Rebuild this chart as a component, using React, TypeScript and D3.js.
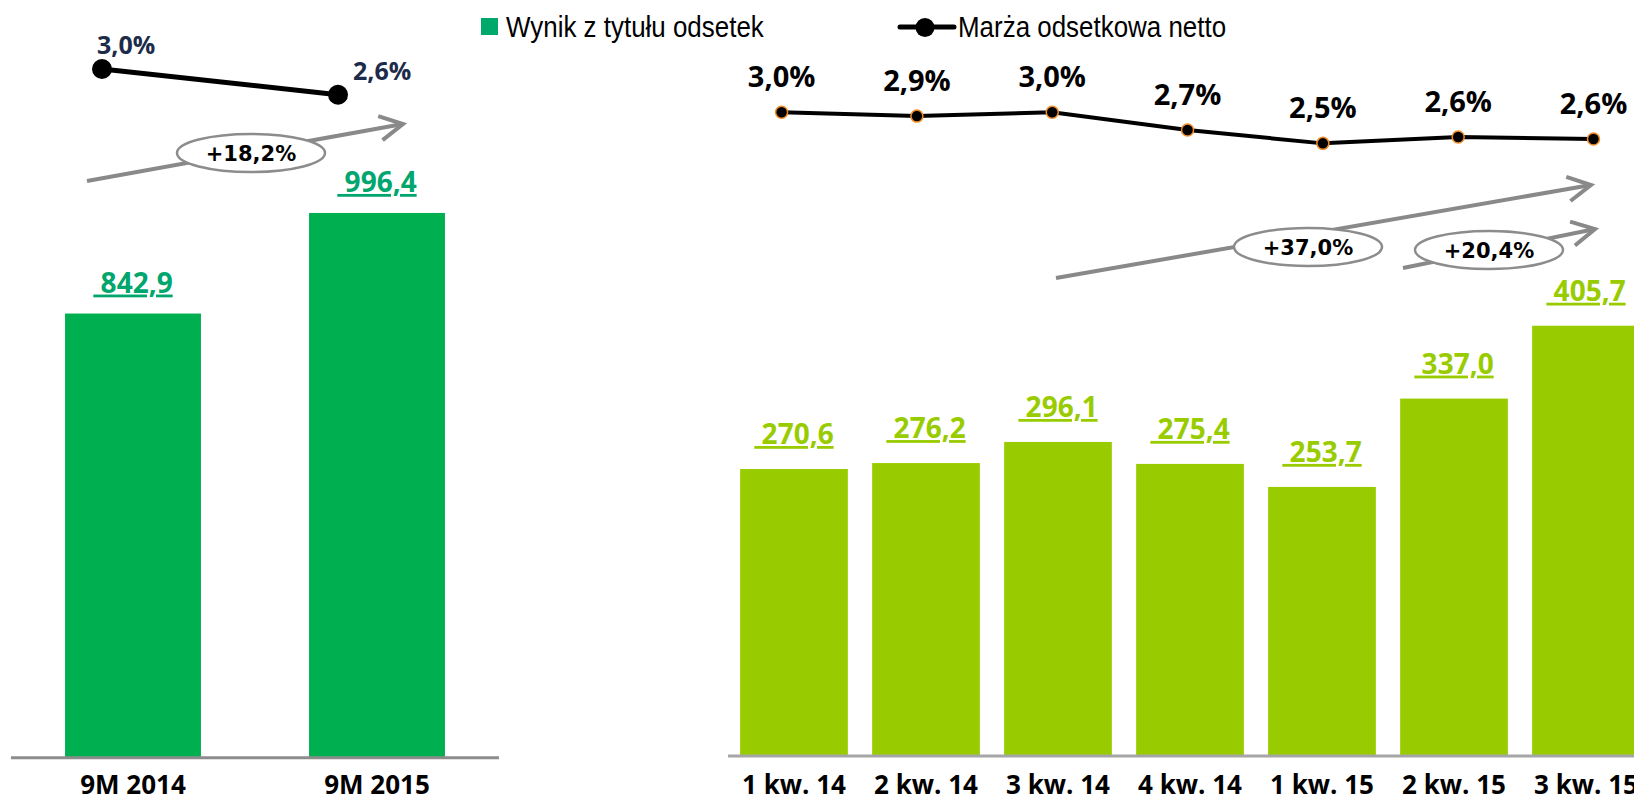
import React from 'react';
import * as d3 from 'd3';

const W = 1634;
const H = 798;

// left panel: 9 months totals
const leftCategories = ['9M 2014', '9M 2015'];
const leftIncome = [842.9, 996.4];
const leftMargin = [3.0, 2.6];

// right panel: quarters
const quarterCategories = ['1 kw. 14', '2 kw. 14', '3 kw. 14', '4 kw. 14', '1 kw. 15', '2 kw. 15', '3 kw. 15'];
const quarterIncome = [270.6, 276.2, 296.1, 275.4, 253.7, 337.0, 405.7];
const quarterMargin = [3.0, 2.94, 3.0, 2.72, 2.51, 2.61, 2.58];

const legendLabels = ['Wynik z tytułu odsetek', 'Marża odsetkowa netto'];
const growthLabels = ['+18,2%', '+37,0%', '+20,4%'];

const fmt = (v: number, d = 1) => v.toFixed(d).replace('.', ',');

const BOLD = '"Open Sans", "DejaVu Sans", sans-serif';
const BADGE = '"DejaVu Sans", Verdana, sans-serif';
const ARIAL = '"Liberation Sans", Arial, sans-serif';

// annotation arrows (start, end, ellipse centre)
const arrows = [
  { x1: 87, y1: 181, x2: 403, y2: 124, cx: 251, cy: 153, label: growthLabels[0] },
  { x1: 1056, y1: 278, x2: 1591, y2: 185, cx: 1308, cy: 247, label: growthLabels[1] },
  { x1: 1403, y1: 268, x2: 1595, y2: 229, cx: 1489, cy: 250, label: growthLabels[2] },
];

function Arrow({ a }: { a: typeof arrows[number] }) {
  const ang = Math.atan2(a.y2 - a.y1, a.x2 - a.x1);
  const len = 26;
  const spread = (28 * Math.PI) / 180;
  const p1 = [a.x2 - len * Math.cos(ang - spread), a.y2 - len * Math.sin(ang - spread)];
  const p2 = [a.x2 - len * Math.cos(ang + spread), a.y2 - len * Math.sin(ang + spread)];
  return (
    <g>
      <line x1={a.x1} y1={a.y1} x2={a.x2} y2={a.y2} stroke="#898989" strokeWidth={4} />
      <polyline
        points={`${p1[0]},${p1[1]} ${a.x2},${a.y2} ${p2[0]},${p2[1]}`}
        fill="none"
        stroke="#898989"
        strokeWidth={4}
        strokeLinejoin="miter"
      />
      <ellipse cx={a.cx} cy={a.cy} rx={74} ry={19} fill="#fff" stroke="#8c8c8c" strokeWidth={2.5} />
      <text x={a.cx} y={a.cy + 7.5} textAnchor="middle" fontFamily={BADGE} fontWeight="bold" fontSize={21} fill="#000">
        {a.label}
      </text>
    </g>
  );
}

export default function App() {
  // left scales
  const xL = d3.scaleBand<string>().domain(leftCategories).range([11, 499]).paddingInner(0.443).paddingOuter(0.2215);
  const yL = d3.scaleLinear().domain([165, 1000]).range([757.7, 210.6]);
  const xLp = d3.scalePoint<string>().domain(leftCategories).range([102, 338]);
  const yLm = d3.scaleLinear().domain([2.6, 3.0]).range([94.7, 69]);

  // right scales
  const xR = d3.scaleBand<string>().domain(quarterCategories).range([728, 1652]).paddingInner(0.184).paddingOuter(0.092);
  const yR = d3.scaleLinear().domain([0, 712.8]).range([756, 0]);
  const xRp = d3.scalePoint<string>().domain(quarterCategories).range([781.6, 1593.5]);
  const yRm = d3.scaleLinear().domain([2.5, 3.0]).range([144, 112.3]);

  const lineL = d3.line<number>().x((_, i) => xLp(leftCategories[i])!).y((d) => yLm(d));
  const lineR = d3.line<number>().x((_, i) => xRp(quarterCategories[i])!).y((d) => yRm(d));

  return (
    <svg width={W} height={H} style={{ position: 'absolute', left: 0, top: 0, background: '#fff' }}>
      {/* legend */}
      <rect x={481} y={18} width={17} height={17} fill="#00a86b" />
      <text transform="translate(506,36.7) scale(0.865,1)" fontFamily={ARIAL} fontSize={30} fill="#000">
        {legendLabels[0]}
      </text>
      <line x1={900} y1={27} x2={954} y2={27} stroke="#000" strokeWidth={5} strokeLinecap="round" />
      <circle cx={925} cy={27.5} r={9.5} fill="#000" />
      <text transform="translate(958,37.3) scale(0.865,1)" fontFamily={ARIAL} fontSize={30} fill="#000">
        {legendLabels[1]}
      </text>

      {/* left bars */}
      {leftIncome.map((v, i) => {
        const c = leftCategories[i];
        const x = xL(c)!;
        const bw = xL.bandwidth();
        return (
          <g key={c}>
            <rect x={x} y={yL(v)} width={bw} height={yL.range()[0] - yL(v)} fill="#00b050" />
            <text
              x={x + bw / 2}
              y={yL(v) - 21}
              textAnchor="middle"
              fontFamily={BOLD}
              fontWeight="bold"
              fontSize={28}
              fill="#00a66e"
              textDecoration="underline"
            >
              {'\u00a0' + fmt(v)}
            </text>
            <text x={x + bw / 2} y={794} textAnchor="middle" fontFamily={BOLD} fontWeight="bold" fontSize={26} fill="#000">
              {c}
            </text>
          </g>
        );
      })}
      <line x1={11} y1={757.7} x2={499} y2={757.7} stroke="#8c8c8c" strokeWidth={3} />

      {/* left margin line */}
      <path d={lineL(leftMargin)!} fill="none" stroke="#000" strokeWidth={5} />
      {leftMargin.map((v, i) => {
        const px = xLp(leftCategories[i])!;
        const py = yLm(v);
        return (
          <g key={i}>
            <circle cx={px} cy={py} r={10} fill="#000" />
            <text
              x={i === 0 ? px - 5 : px + 15}
              y={py - 15}
              fontFamily={BOLD}
              fontWeight="bold"
              fontSize={25}
              fill="#1c2b4a"
            >
              {fmt(v) + '%'}
            </text>
          </g>
        );
      })}

      {/* right bars */}
      {quarterIncome.map((v, i) => {
        const c = quarterCategories[i];
        const x = xR(c)!;
        const bw = xR.bandwidth();
        return (
          <g key={c}>
            <rect x={x} y={yR(v)} width={bw} height={yR(0) - yR(v)} fill="#99cc00" />
            <text
              x={x + bw / 2}
              y={yR(v) - 25}
              textAnchor="middle"
              fontFamily={BOLD}
              fontWeight="bold"
              fontSize={28}
              fill="#99cc00"
              textDecoration="underline"
            >
              {'\u00a0' + fmt(v)}
            </text>
            <text x={x + bw / 2} y={794} textAnchor="middle" fontFamily={BOLD} fontWeight="bold" fontSize={26} fill="#000">
              {c}
            </text>
          </g>
        );
      })}
      <line x1={728} y1={756} x2={W} y2={756} stroke="#a6a6a6" strokeWidth={3} />

      {/* right margin line */}
      <path d={lineR(quarterMargin)!} fill="none" stroke="#000" strokeWidth={4} />
      {quarterMargin.map((v, i) => {
        const px = xRp(quarterCategories[i])!;
        const py = yRm(v);
        return (
          <g key={i}>
            <circle cx={px} cy={py} r={6} fill="#000" stroke="#f08c28" strokeWidth={1.5} />
            <text x={px} y={py - 25} textAnchor="middle" fontFamily={BOLD} fontWeight="bold" fontSize={29} fill="#000">
              {fmt(v) + '%'}
            </text>
          </g>
        );
      })}

      {arrows.map((a, i) => (
        <Arrow key={i} a={a} />
      ))}
    </svg>
  );
}
